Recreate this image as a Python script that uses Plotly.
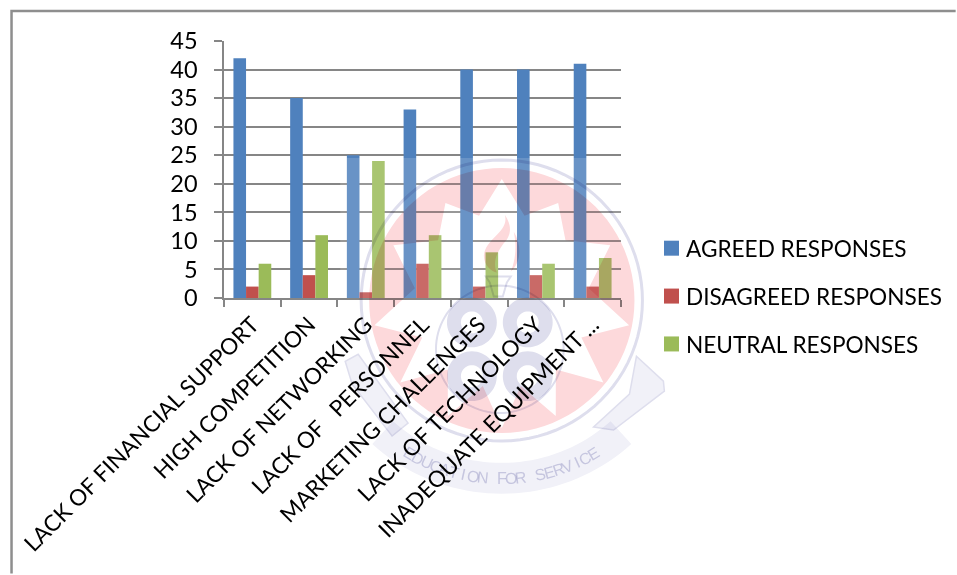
import math
import plotly.graph_objects as go

# Survey results
categories = [
    "LACK OF FINANCIAL SUPPORT",
    "HIGH COMPETITION",
    "LACK OF NETWORKING",
    "LACK OF \u00a0\u00a0PERSONNEL",
    "MARKETING CHALLENGES",
    "LACK OF TECHNOLOGY",
    "INADEQUATE EQUIPMENT ...",
]
agreed = [42, 35, 25, 33, 40, 40, 41]
disagreed = [2, 4, 1, 6, 2, 4, 2]
neutral = [6, 11, 24, 11, 8, 6, 7]

series_names = ["AGREED RESPONSES", "DISAGREED RESPONSES", "NEUTRAL RESPONSES"]
series_colors = ["#4F81BD", "#C0504D", "#9BBB59"]

# Plot area in page pixels
W, H = 957, 575
L, R, T, B = 223.5, 621.5, 40.5, 298.5
GRID = "#868686"
FONT = "Lato"


def px(x):
    return (x - L) / (R - L)


def py(y):
    return (B - y) / (B - T)


def pt(x, y):
    return f"{px(x):.5f},{py(y):.5f}"


def polygon(points):
    return "M" + " L".join(pt(x, y) for x, y in points) + " Z"


def circle(cx, cy, r, n=96):
    return polygon([(cx + r * math.cos(2 * math.pi * i / n),
                     cy + r * math.sin(2 * math.pi * i / n)) for i in range(n)])


def box(x0, y0, x1, y1, **kw):
    return dict(type="rect", xref="paper", yref="paper", x0=px(x0), x1=px(x1),
                y0=py(y0), y1=py(y1), layer="above", **kw)


def path(d, fill=None, line=None, width=0):
    return dict(type="path", xref="paper", yref="paper", path=d, layer="above",
                fillcolor=fill or "rgba(0,0,0,0)",
                line=dict(color=line or "rgba(0,0,0,0)", width=width))


# Crest behind the chart
CX, CY = 502, 301
PINK = "#FDD9DB"
LAV = "#DEDEED"
PALE = "#F1F1F8"

star_angles = [90, 60, 27, -11, -39, -65, -90, -115, -141, -169, 153, 120]
star_tips = [122, 113, 122, 130, 131, 128, 128, 128, 131, 130, 122, 113]
star = []
for i, (a, r) in enumerate(zip(star_angles, star_tips)):
    next_a = star_angles[(i + 1) % 12]
    if next_a > a:
        next_a -= 360
    mid = math.radians((a + next_a) / 2)
    a = math.radians(a)
    star.append((CX + r * math.cos(a), CY - r * math.sin(a)))
    star.append((CX + 88 * math.cos(mid), CY - 88 * math.sin(mid)))


def band(r0, r1, a0, a1, n=40):
    outer = [(CX + r1 * math.cos(math.radians(a0 + (a1 - a0) * i / n)),
              CY - r1 * math.sin(math.radians(a0 + (a1 - a0) * i / n))) for i in range(n + 1)]
    inner = [(CX + r0 * math.cos(math.radians(a1 - (a1 - a0) * i / n)),
              CY - r0 * math.sin(math.radians(a1 - (a1 - a0) * i / n))) for i in range(n + 1)]
    return polygon(outer + inner)


flame = (f"M{pt(505, 215)} C{pt(510, 232)} {pt(486, 238)} {pt(484, 256)} "
         f"C{pt(484, 266)} {pt(492, 272)} {pt(497, 273)} "
         f"C{pt(492, 262)} {pt(498, 250)} {pt(507, 240)} C{pt(512, 232)} {pt(511, 224)} {pt(505, 215)} Z "
         f"M{pt(514, 232)} C{pt(522, 245)} {pt(522, 262)} {pt(511, 272)} "
         f"C{pt(516, 260)} {pt(517, 246)} {pt(514, 232)} Z")

clover = " ".join(
    [circle(CX - 2 + dx, 350 + dy, 25, 60) + " " + circle(CX - 2 + dx, 350 + dy, 11, 48)
     for dx in (-28, 28) for dy in (-27, 27)]
)

shapes = [
    # Index 0 stays a plain translucent veil, the rest of the crest is multiplied
    box(340, 158, R, B, fillcolor="rgba(255,255,255,0.15)", line=dict(width=0)),
    path(circle(CX, CY, 133) + " " + polygon(star), fill=PINK),
    path(circle(CX, CY, 141), line=LAV, width=3),
    path(flame, fill=PINK),
    path(circle(CX - 2, 350, 64), line=LAV, width=2),
    path(clover, fill=LAV),
    path(polygon([(486, 277), (511, 277), (507, 283), (503, 297), (494, 297), (490, 283)]), line=LAV, width=2),
    path(band(163, 194, 228, 312), fill=PALE),
    path(polygon([(358, 355), (408, 424), (392, 437), (352, 385), (345, 362)]), fill=PALE, line=LAV, width=1.5),
    path(polygon([(637, 357), (664, 382), (665, 392), (614, 431), (594, 428), (630, 395)]), fill=PALE, line=LAV, width=1.5),
    # Page frame
    path(f"M{pt(10.5, H)} L{pt(10.5, 10.5)} L{pt(W, 10.5)}", line="#8E8E8E", width=2.5),
]

# Motto curved along the ribbon
motto = "EDUCATION FOR SERVICE"
annotations = []
for i, ch in enumerate(motto):
    delta = 3.1 * (i - (len(motto) - 1) / 2)
    a = math.radians(270 + delta)
    annotations.append(dict(
        x=px(CX + 179 * math.cos(a)), y=py(CY - 179 * math.sin(a)),
        xref="paper", yref="paper", text=ch, showarrow=False,
        textangle=-delta,
        font=dict(family="Liberation Sans", size=16, color="#D2D2E6"),
        xanchor="center", yanchor="middle",
    ))

fig = go.Figure()
for name, values, color in zip(series_names, [agreed, disagreed, neutral], series_colors):
    fig.add_bar(x=categories, y=values, name=name, legendgroup=name,
                marker=dict(color=color, line=dict(width=0)))

fig.update_layout(
    width=W, height=H, autosize=False,
    margin=dict(l=L, r=W - R, t=T, b=H - B, pad=0, autoexpand=False),
    paper_bgcolor="white", plot_bgcolor="white",
    barmode="group", bargap=0.333, bargroupgap=0,
    font=dict(family=FONT, size=23, color="#000000"),
    shapes=shapes, annotations=annotations,
    legend=dict(xref="container", yref="container", x=646 / W, y=1 - 227 / H,
                xanchor="left", yanchor="top",
                tracegroupgap=15.5, bgcolor="rgba(0,0,0,0)",
                font=dict(family=FONT, size=22.6, color="#000000")),
)
fig.update_xaxes(
    type="category", tickson="boundaries", ticks="outside", ticklen=7, tickwidth=1.5,
    tickcolor=GRID, showline=True, linecolor=GRID, linewidth=1.5, showgrid=False,
    tickangle=-45, automargin=False, zeroline=False, ticklabelstandoff=3,
    tickfont=dict(family=FONT, size=22.5, color="#000000"),
)
fig.update_yaxes(
    range=[0, 45], dtick=5, ticks="outside", ticklen=8, tickwidth=1.5, tickcolor=GRID,
    showline=True, linecolor=GRID, linewidth=1.5, showgrid=True, gridcolor=GRID,
    gridwidth=1.5, zeroline=False, automargin=False, ticklabelstandoff=12,
    tickfont=dict(family=FONT, size=23.5, color="#000000"),
)

# Crest blends with what lies under it; legend keys get the larger square
post = """
var gd = document.getElementById('{plot_id}');
gd.querySelectorAll('.layer-above .shapelayer path').forEach(function (p, i) {
  if (i > 0) { p.style.mixBlendMode = 'multiply'; }
});
gd.querySelectorAll('.annotation').forEach(function (a) {
  a.style.mixBlendMode = 'multiply';
});
gd.querySelectorAll('.legendpoints path').forEach(function (p) {
  p.setAttribute('d', 'M13,7.5H-2V-7.5H13Z');
});
"""
fig.write_html("out.html", post_script=post, config=dict(displayModeBar=False))
